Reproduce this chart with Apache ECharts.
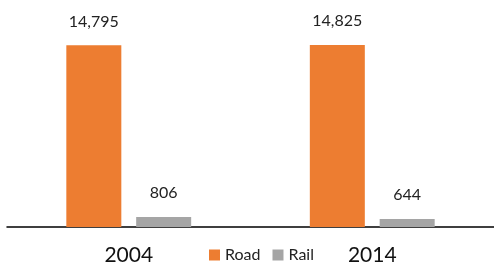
<!DOCTYPE html>
<html>
<head>
<meta charset="utf-8">
<script src="https://cdn.jsdelivr.net/npm/echarts@6/dist/echarts.min.js"></script>
<style>
  html, body { margin: 0; padding: 0; background: #fff; }
  #chart { width: 494px; height: 269px; }
</style>
</head>
<body>
<div id="chart"></div>
<script>
  var years = ['2004', '2014'];
  var road = [14795, 14825];
  var rail = [806, 644];

  var myChart = echarts.init(document.getElementById('chart'));
  var labelStyle = {
    show: true,
    position: 'top',
    distance: 16,
    color: '#222',
    fontFamily: 'Lato',
    fontSize: 16,
    formatter: function (p) { return p.value.toLocaleString('en-US'); }
  };
  var option = {
    animation: false,
    textStyle: { fontFamily: 'Lato' },
    grid: { left: 7, right: 0, top: 45, bottom: 42 },
    legend: {
      data: ['Road', 'Rail'],
      bottom: 1,
      left: 204,
      itemWidth: 11,
      itemHeight: 11,
      itemGap: 12,
      icon: 'rect',
      textStyle: { fontSize: 16, color: '#222', fontFamily: 'Lato' }
    },
    color: ['#ed7d31', '#a5a5a5'],
    xAxis: {
      type: 'category',
      data: years,
      axisTick: { show: false },
      axisLine: { lineStyle: { color: '#000', width: 1.5 } },
      axisLabel: { fontSize: 21, color: '#111', margin: 18, fontFamily: 'Lato' }
    },
    yAxis: {
      type: 'value',
      min: 0,
      max: 14825,
      show: false,
      splitLine: { show: false }
    },
    series: [
      {
        name: 'Road',
        type: 'bar',
        barWidth: 55,
        barGap: '27%',
        label: labelStyle,
        data: road
      },
      {
        name: 'Rail',
        type: 'bar',
        barWidth: 55,
        label: labelStyle,
        data: rail
      }
    ]
  };
  myChart.setOption(option);
</script>
</body>
</html>
